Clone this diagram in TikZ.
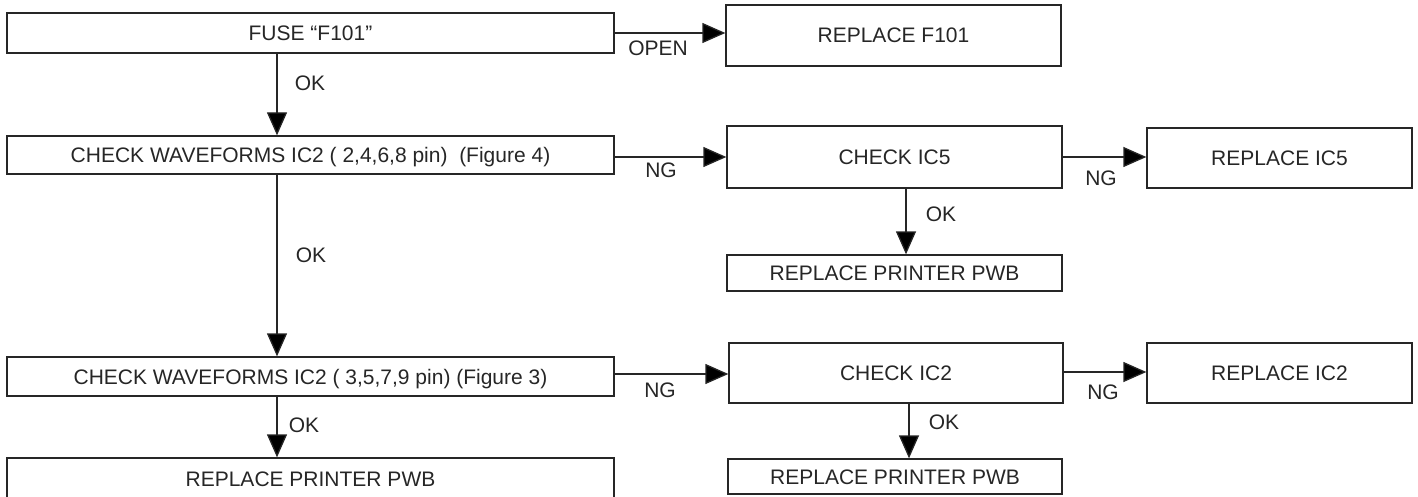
\documentclass[tikz,border=0pt]{standalone}
\usepackage{fontspec}
\setmainfont{Liberation Sans}
\usetikzlibrary{arrows.meta}
\definecolor{ink}{HTML}{262626}
\begin{document}
\begin{tikzpicture}[x=1pt,y=-1pt,
  box/.style={draw=ink, line width=1.3pt, inner sep=0pt, align=center, text=ink,
    font=\fontsize{21}{24}\selectfont, text height=15pt, text depth=0pt},
  lbl/.style={text=ink, inner sep=0pt, font=\fontsize{21}{24}\selectfont,
    text height=15pt, text depth=0pt},
  arr/.style={draw=ink, line width=1.3pt, -{Triangle[length=23pt,width=20pt,fill=black]}}]
\useasboundingbox (0,0) rectangle (1418,497);
% left column
\node[box, minimum width=607pt, minimum height=40pt] (fuse) at (310.5,33) {FUSE “F101”};
\node[box, minimum width=607pt, minimum height=38pt] (wf1) at (310.5,155) {CHECK WAVEFORMS IC2 ( 2,4,6,8 pin)\ \ (Figure 4)};
\node[box, minimum width=607pt, minimum height=39pt] (wf2) at (310.5,376.5) {CHECK WAVEFORMS IC2 ( 3,5,7,9 pin) (Figure 3)};
\node[box, minimum width=607pt, minimum height=42pt] (pwb3) at (310.5,479) {REPLACE PRINTER PWB};
% middle column
\node[box, minimum width=335pt, minimum height=61pt] (rf101) at (893.5,35.5) {REPLACE F101};
\node[box, minimum width=335pt, minimum height=62pt] (ic5) at (894.5,157) {CHECK IC5};
\node[box, minimum width=335pt, minimum height=36pt] (pwb1) at (894.5,273) {REPLACE PRINTER PWB};
\node[box, minimum width=334pt, minimum height=60pt] (ic2) at (896,373) {CHECK IC2};
\node[box, minimum width=334pt, minimum height=35pt] (pwb2) at (895,476.5) {REPLACE PRINTER PWB};
% right column
\node[box, minimum width=265pt, minimum height=60pt] (rep5) at (1279.5,158) {REPLACE IC5};
\node[box, minimum width=265pt, minimum height=60pt] (rep2) at (1279.5,373) {REPLACE IC2};
% guide coordinates for connector positions
\coordinate (cl) at (277,0);
\coordinate (c5) at (906,0);
\coordinate (c2) at (909,0);
\coordinate (r1) at (0,33);
\coordinate (r2) at (0,157);
\coordinate (r3) at (0,374);
\coordinate (r4) at (0,372);
% connectors
\draw[arr] (fuse.east |- r1) -- (rf101.west |- r1);
\draw[arr] (fuse.south -| cl) -- (wf1.north -| cl);
\draw[arr] (wf1.east |- r2) -- (ic5.west |- r2);
\draw[arr] (ic5.east |- r2) -- (rep5.west |- r2);
\draw[arr] (ic5.south -| c5) -- (pwb1.north -| c5);
\draw[arr] (wf1.south -| cl) -- (wf2.north -| cl);
\draw[arr] (wf2.east |- r3) -- (ic2.west |- r3);
\draw[arr] (ic2.east |- r4) -- (rep2.west |- r4);
\draw[arr] (ic2.south -| c2) -- (pwb2.north -| c2);
\draw[arr] (wf2.south -| cl) -- (pwb3.north -| cl);
% labels
\node[lbl] (lopen) at (658,48.5) {OPEN};
\node[lbl] (lok1) at (310,83) {OK};
\node[lbl] (lng1) at (661,170) {NG};
\node[lbl] (lng2) at (1101,178) {NG};
\node[lbl] (lok2) at (941,214) {OK};
\node[lbl] (lok3) at (311,255) {OK};
\node[lbl] (lng3) at (660,390) {NG};
\node[lbl] (lng4) at (1103,392) {NG};
\node[lbl] (lok4) at (944,422) {OK};
\node[lbl] (lok5) at (304,425) {OK};
\end{tikzpicture}
\end{document}
